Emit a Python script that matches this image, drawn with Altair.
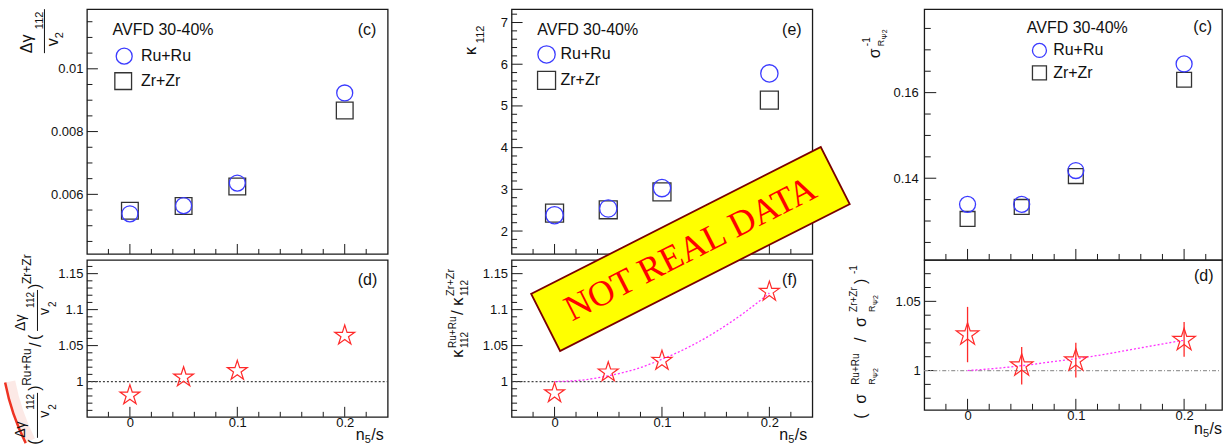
import math
import altair as alt
import pandas as pd

# ---------------- values ----------------
ns = [0.0, 0.05, 0.1, 0.2]

gamma_ru = [0.00538, 0.00564, 0.00636, 0.00923]
gamma_zr = [0.00548, 0.00563, 0.00625, 0.00867]
gamma_ratio = [0.981, 1.006, 1.015, 1.064]

kappa_ru = [2.38, 2.54, 3.03, 5.78]
kappa_zr = [2.43, 2.51, 2.94, 5.14]
kappa_ratio = [0.984, 1.013, 1.029, 1.125]
kappa_fit_x = [0.0, 0.025, 0.05, 0.075, 0.1, 0.125, 0.15, 0.175, 0.2]
kappa_fit_y = [1.000, 1.002, 1.008, 1.017, 1.031, 1.048, 1.069, 1.094, 1.123]

sigma_ru = [0.1339, 0.1339, 0.1418, 0.1667]
sigma_zr = [0.1305, 0.1333, 0.1405, 0.1630]
sigma_ratio = [1.026, 1.0036, 1.0072, 1.022]
sigma_ratio_lo = [1.006, 0.990, 0.995, 1.010]
sigma_ratio_hi = [1.046, 1.017, 1.020, 1.035]
sigma_fit_x = [0.0, 0.025, 0.05, 0.075, 0.1, 0.125, 0.15, 0.175, 0.2]
sigma_fit_y = [1.000, 1.0015, 1.0035, 1.006, 1.0085, 1.0115, 1.015, 1.0185, 1.022]

# tick labels
x_major = [0, 0.1, 0.2]
gamma_major = [0.006, 0.008, 0.01]
ratio_major = [1, 1.05, 1.1, 1.15]
kappa_major = [2, 3, 4, 5, 6, 7]
sigma_major = [0.14, 0.16]
sratio_major = [1, 1.05]

# ---------------- styling ----------------
SANS = "Liberation Sans"
SERIF = "Liberation Serif"
BLUE = "#3b3bff"
DARK = "#333333"
RED = "#ff2a2a"
MAGENTA = "#ff33ff"
FRAME = "#1a1a1a"
TXT = "#111111"

ONE = pd.DataFrame({"k": [0]})


def minors(lo, hi, step, majors):
    out = []
    n = int(round((hi - lo) / step))
    for i in range(n + 1):
        v = round(lo + i * step, 6)
        if all(abs(v - m) > step * 1e-3 for m in majors):
            out.append(v)
    return out


x_minor = minors(-0.02, 0.22, 0.02, x_major)
gamma_minor = minors(0.0045, 0.0115, 0.0005, gamma_major)
ratio_minor = minors(0.96, 1.16, 0.01, ratio_major)
kappa_minor = minors(1.6, 7.2, 0.2, kappa_major)
sigma_minor = minors(0.125, 0.175, 0.005, sigma_major)
sratio_minor = minors(0.98, 1.07, 0.01, sratio_major)


def star_path(r_in=0.38):
    pts = []
    for k in range(10):
        ang = math.radians(-90 + 36 * k)
        r = 1.0 if k % 2 == 0 else r_in
        pts.append(f"{r * math.cos(ang):.3f},{r * math.sin(ang):.3f}")
    return "M" + "L".join(pts) + "Z"


STAR = star_path()
BOX = "M-1,-0.197L1,-0.197L1,0.197L-1,0.197Z"


def T(o, t, x, y, size=16, angle=0, align="left", baseline="middle", color=TXT, font=SANS):
    return alt.Chart(ONE).mark_text(
        text=t, font=font, fontSize=size, angle=angle, align=align,
        baseline=baseline, color=color
    ).encode(x=alt.value(x - o[0]), y=alt.value(y - o[1]))


def R(o, t, bx, sy, size=16):
    return T(o, t, bx, sy, size=size, angle=270, align="left", baseline="alphabetic")


def SYM(o, shape, x, y, size, color, sw=1.3):
    return alt.Chart(ONE).mark_point(
        shape=shape, size=size, filled=False, color=color, strokeWidth=sw, opacity=1
    ).encode(x=alt.value(x - o[0]), y=alt.value(y - o[1]))


def VL(o, x, y1, y2, w=1.0):
    return alt.Chart(ONE).mark_rule(color=TXT, strokeWidth=w).encode(
        x=alt.value(x - o[0]), y=alt.value(y1 - o[1]), y2=alt.value(y2 - o[1]))


def ANCHOR(o, x, y):
    return alt.Chart(ONE).mark_rule(strokeOpacity=0).encode(
        x=alt.value(x - o[0]), x2=alt.value(x - o[0] + 2),
        y=alt.value(y - o[1]), y2=alt.value(y - o[1]))


def df(x, y):
    return pd.DataFrame({"x": x, "y": y})


def panel(o, W, H, xdom, ydom, ymaj, ymin, xlabels, maj_len, min_len, ylab_pad, content):
    xs = alt.Scale(domain=xdom, nice=False, zero=False)
    ys = alt.Scale(domain=ydom, nice=False, zero=False)
    yax = alt.Axis(values=ymaj, ticks=False, tickSize=0, domain=False, grid=False,
                   labelFont=SANS, labelFontSize=13, labelColor=TXT, labelPadding=ylab_pad,
                   format="~g", labelFlush=False, labelOverlap=False)
    if xlabels:
        xax = alt.Axis(values=x_major, ticks=False, tickSize=0, domain=False, grid=False,
                       labelFont=SANS, labelFontSize=13, labelColor=TXT, labelPadding=0,
                       format="~g", labelFlush=False, labelOverlap=False)
    else:
        xax = None

    def X(f):
        return alt.X(f, type="quantitative", scale=xs, axis=xax, title=None)

    def Y(f):
        return alt.Y(f, type="quantitative", scale=ys, axis=yax, title=None)

    layers = [
        alt.Chart(pd.DataFrame({"v": ymaj})).mark_rule(color=FRAME, strokeWidth=1).encode(
            y=Y("v"), x=alt.value(0), x2=alt.value(maj_len)),
        alt.Chart(pd.DataFrame({"v": ymin})).mark_rule(color=FRAME, strokeWidth=1).encode(
            y=Y("v"), x=alt.value(0), x2=alt.value(min_len)),
        alt.Chart(pd.DataFrame({"v": x_major})).mark_rule(color=FRAME, strokeWidth=1).encode(
            x=X("v"), y=alt.value(H), y2=alt.value(H - maj_len + 1)),
        alt.Chart(pd.DataFrame({"v": x_minor})).mark_rule(color=FRAME, strokeWidth=1).encode(
            x=X("v"), y=alt.value(H), y2=alt.value(H - min_len + 0.5)),
    ]
    layers += content(X, Y, W)
    return alt.layer(*layers).properties(width=W, height=H)


def spacer(w):
    return alt.Chart(ONE).mark_point(opacity=0).encode(
        x=alt.value(0), y=alt.value(0)
    ).properties(width=w, height=10, view=alt.ViewBackground(strokeOpacity=0))


XDOM = [-0.04, 0.24]
XDOM3 = [-0.04, 0.235]

O1T, O1B = (86, 8), (86, 253)
O2T, O2B = (511, 8), (511, 253)
O3T, O3B = (924, 8), (924, 259)


def open_pts(X, Y, x, y, shape, size, color, sw=1.3):
    return alt.Chart(df(x, y)).mark_point(
        shape=shape, size=size, filled=False, color=color, strokeWidth=sw, opacity=1
    ).encode(x=X("x"), y=Y("y"))


def unity(X, Y, W, color="#444444", dash=(2, 2)):
    return alt.Chart(pd.DataFrame({"y": [1.0]})).mark_rule(
        color=color, strokeDash=list(dash), strokeWidth=1.2
    ).encode(y=Y("y"), x=alt.value(0), x2=alt.value(W))


def xtitle(o, left):
    return [
        T(o, "n", left, 433, size=16, baseline="alphabetic"),
        T(o, "5", left + 9, 436, size=11, baseline="alphabetic"),
        T(o, "/s", left + 15.5, 433, size=16, baseline="alphabetic"),
    ]


# ---------------- column 1 ----------------
def c1t(X, Y, W):
    o = O1T
    return [
        open_pts(X, Y, ns, gamma_zr, "square", 280, DARK),
        open_pts(X, Y, ns, gamma_ru, "circle", 256, BLUE),
        T(o, "AVFD 30-40%", 111.7, 29.3),
        SYM(o, "circle", 123.3, 55, 256, BLUE),
        T(o, "Ru+Ru", 140, 55),
        SYM(o, "square", 122.3, 80, 280, DARK),
        T(o, "Zr+Zr", 140, 80),
        T(o, "(c)", 357, 29),
        # y title: Δγ_112 / v_2
        R(o, "Δγ", 31, 52, 16),
        R(o, "112", 42, 28, 11),
        VL(o, 43.5, 8, 52),
        R(o, "v", 57, 45, 16),
        R(o, "2", 62, 37, 11),
        # anchor for the page origin
        ANCHOR(o, 0, 0),
    ]


def c1b(X, Y, W):
    o = O1B
    out = [
        unity(X, Y, W),
        open_pts(X, Y, ns, gamma_ratio, STAR, 440, RED, 1.2),
        T(o, "(d)", 357, 273),
        # red arc of the logo, bottom left
        alt.Chart(ONE).mark_arc(theta=4.25, theta2=4.52, innerRadius=228, outerRadius=237,
                                color="#f9cfc8", opacity=0.45).encode(
            x=alt.value(238 - o[0]), y=alt.value(330 - o[1])),
        alt.Chart(ONE).mark_arc(theta=4.25, theta2=4.52, innerRadius=237, outerRadius=239.5,
                                color="#ee3322").encode(
            x=alt.value(238 - o[0]), y=alt.value(330 - o[1])),
        # y title: (Δγ112/v2)^{Ru+Ru} / (Δγ112/v2)^{Zr+Zr}
        R(o, "(", 39, 438, 16),
        R(o, "Δγ", 24, 431, 14),
        R(o, "112", 33, 403, 10),
        VL(o, 36.5, 386, 431),
        R(o, "v", 48, 411, 14),
        R(o, "2", 55, 403, 10),
        R(o, ")", 39, 384, 16),
        R(o, "Ru+Ru", 30, 379, 12),
        R(o, "/", 40, 340, 16),
        R(o, "(", 39, 333, 16),
        R(o, "Δγ", 24, 324, 14),
        R(o, "112", 33, 301, 10),
        VL(o, 36.5, 283, 324),
        R(o, "v", 48, 308, 14),
        R(o, "2", 55, 300, 10),
        R(o, ")", 39, 282, 16),
        R(o, "Zr+Zr", 30, 277, 12),
        # anchor for the page bottom
        ANCHOR(o, 0, 443),
    ]
    return out + xtitle(o, 355)


# ---------------- column 2 ----------------
def c2t(X, Y, W):
    o = O2T
    return [
        open_pts(X, Y, ns, kappa_zr, "square", 324, DARK),
        open_pts(X, Y, ns, kappa_ru, "circle", 300, BLUE),
        T(o, "AVFD 30-40%", 536.7, 29.3),
        SYM(o, "circle", 546, 53.3, 300, BLUE),
        T(o, "Ru+Ru", 560, 53.3),
        SYM(o, "square", 546, 79.3, 324, DARK),
        T(o, "Zr+Zr", 560, 79.3),
        T(o, "(e)", 781.7, 29.3),
        R(o, "κ", 475, 54, 17),
        R(o, "112", 483, 42, 11),
    ]


def c2b(X, Y, W):
    o = O2B
    out = [
        unity(X, Y, W),
        alt.Chart(df(kappa_fit_x, kappa_fit_y)).mark_line(
            color=MAGENTA, strokeDash=[2, 2], strokeWidth=1.3, interpolate="monotone"
        ).encode(x=X("x"), y=Y("y")),
        open_pts(X, Y, ns, kappa_ratio, STAR, 440, RED, 1.2),
        T(o, "(f)", 781.7, 273.3),
        R(o, "κ", 462, 351, 17),
        R(o, "Ru+Ru", 455, 341, 10),
        R(o, "112", 467, 341, 10),
        R(o, "/", 462, 308, 17),
        R(o, "κ", 462, 299, 17),
        R(o, "Zr+Zr", 453, 289, 11),
        R(o, "112", 467, 289, 10),
    ]
    out += xtitle(o, 779)
    # "NOT REAL DATA" stamp
    cx, cy = 690 - o[0], 242 - o[1]
    out += [
        alt.Chart(ONE).mark_point(shape=BOX, size=105625, filled=True, fill="#ffff00",
                                  stroke="#7a0000", strokeWidth=1.8, opacity=1,
                                  angle=333.1).encode(x=alt.value(cx), y=alt.value(cy)),
        alt.Chart(ONE).mark_text(text="NOT REAL DATA", font=SERIF, fontSize=36, angle=333.1,
                                 align="center", baseline="middle", color="#ff0000").encode(
            x=alt.value(cx), y=alt.value(cy)),
    ]
    return out


# ---------------- column 3 ----------------
def c3t(X, Y, W):
    o = O3T
    return [
        open_pts(X, Y, ns, sigma_zr, "square", 220, DARK),
        open_pts(X, Y, ns, sigma_ru, "circle", 256, BLUE),
        T(o, "AVFD 30-40%", 1026.7, 26.7),
        SYM(o, "circle", 1039.3, 49.3, 196, BLUE),
        T(o, "Ru+Ru", 1053, 49.3),
        SYM(o, "square", 1039.3, 71.7, 196, DARK),
        T(o, "Zr+Zr", 1053, 71.7),
        T(o, "(c)", 1193.3, 25.7),
        R(o, "σ", 880, 57, 16),
        R(o, "-1", 870, 45, 10),
        R(o, "R", 884, 45, 9),
        R(o, "Ψ2", 887, 38, 7),
    ]


def c3b(X, Y, W):
    o = O3B
    out = [
        unity(X, Y, W, color="#9a9a9a", dash=(4, 2, 1, 2)),
        alt.Chart(df(sigma_fit_x, sigma_fit_y)).mark_line(
            color=MAGENTA, strokeDash=[2, 2], strokeWidth=1.3, interpolate="monotone"
        ).encode(x=X("x"), y=Y("y")),
        alt.Chart(pd.DataFrame({"x": ns, "lo": sigma_ratio_lo, "hi": sigma_ratio_hi})).mark_rule(
            color=RED, strokeWidth=1.3).encode(x=X("x"), y=Y("lo"), y2=alt.Y2("hi")),
        open_pts(X, Y, ns, sigma_ratio, STAR, 560, RED, 1.2),
        T(o, "(d)", 1194, 275),
        R(o, "(", 866, 418, 16),
        R(o, "σ", 866, 403, 16),
        R(o, "Ru+Ru", 859, 384, 10),
        R(o, "R", 875, 384, 9),
        R(o, "Ψ2", 878, 377, 7),
        R(o, "/", 866, 341, 16),
        R(o, "σ", 866, 326, 16),
        R(o, "Zr+Zr", 857, 311, 10),
        R(o, "R", 875, 311, 9),
        R(o, "Ψ2", 878, 304, 7),
        R(o, ")", 866, 283, 16),
        R(o, "-1", 857, 273, 10),
    ]
    return out + xtitle(o, 1194)


p1t = panel(O1T, 301, 245, XDOM, [0.0041, 0.0119], gamma_major, gamma_minor, False, 11, 5.5, 4, c1t)
p1b = panel(O1B, 301, 157, XDOM, [0.951, 1.169], ratio_major, ratio_minor, True, 11, 5.5, 4, c1b)
p2t = panel(O2T, 301, 245, XDOM, [1.45, 7.32], kappa_major, kappa_minor, False, 11, 5.5, 4, c2t)
p2b = panel(O2B, 301, 157, XDOM, [0.951, 1.169], ratio_major, ratio_minor, True, 11, 5.5, 4, c2b)
p3t = panel(O3T, 298, 251, XDOM3, [0.1209, 0.1795], sigma_major, sigma_minor, False, 12, 6.5, 6, c3t)
p3b = panel(O3B, 298, 150, XDOM3, [0.9716, 1.0799], sratio_major, sratio_minor, True, 12, 6.5, 4, c3b)

chart = alt.concat(
    p1t, spacer(124), p2t, spacer(112), p3t,
    p1b, spacer(124), p2b, spacer(112), p3b,
    columns=5, spacing=0, bounds="flush", align="none",
).properties(padding=0, background="white").configure_view(stroke=FRAME, strokeWidth=1.3)

chart.save("out.html", embed_options={"renderer": "svg", "actions": False})
